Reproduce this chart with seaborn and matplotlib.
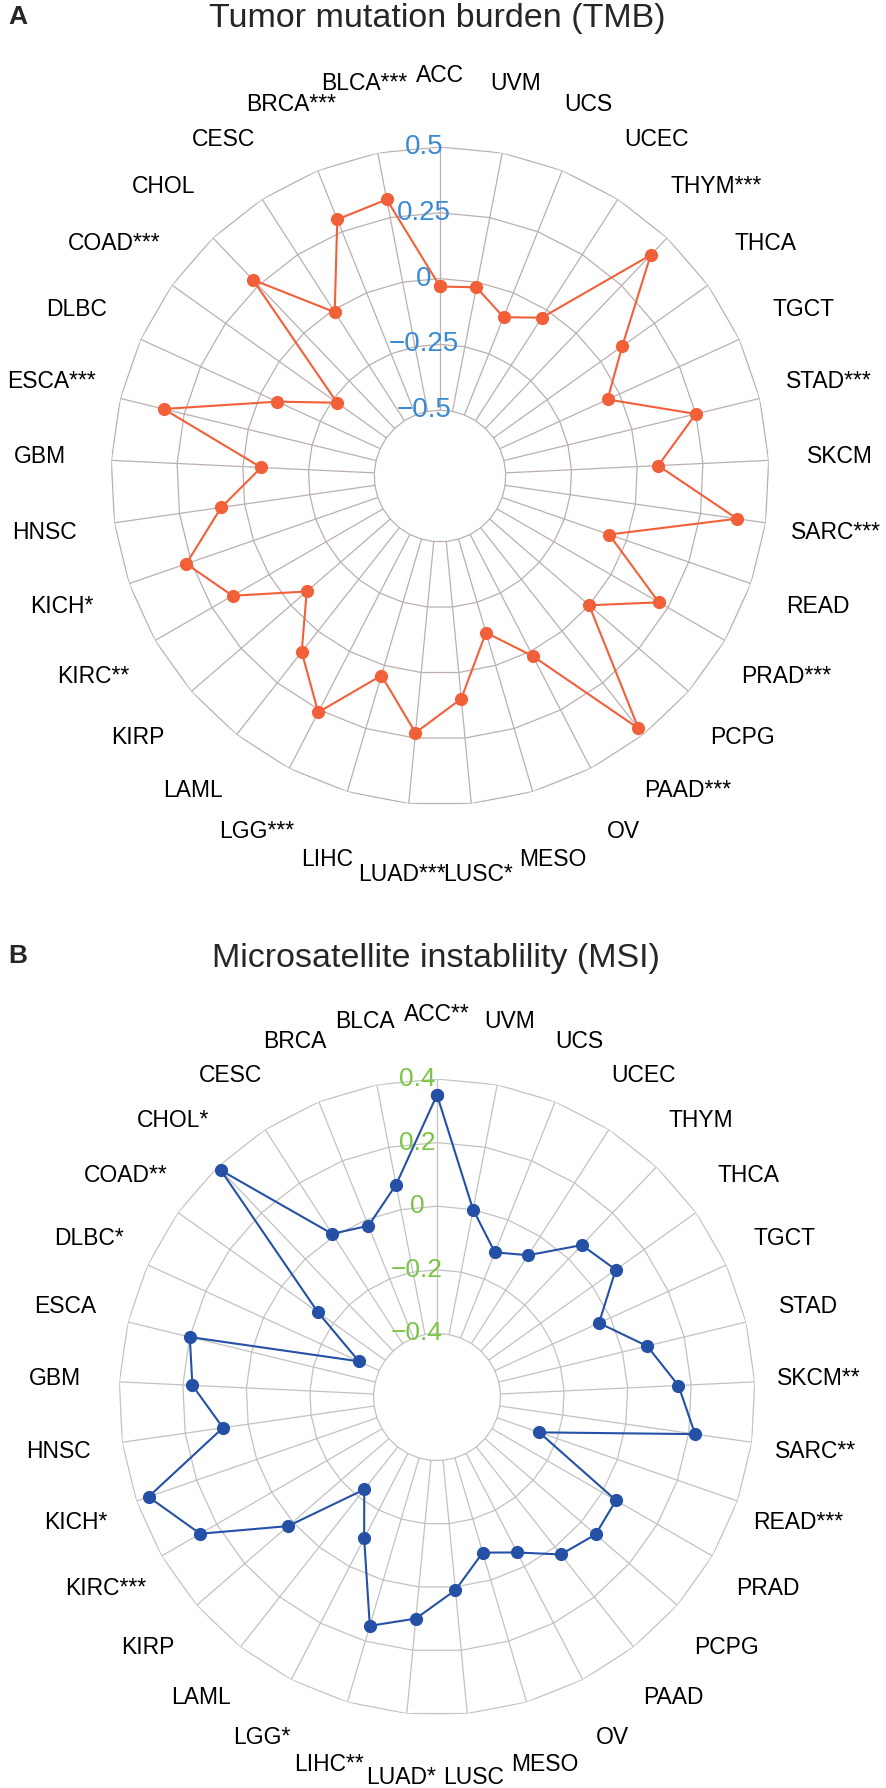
import numpy as np
import pandas as pd
import matplotlib
matplotlib.use("Agg")
import matplotlib.pyplot as plt
import seaborn as sns
from matplotlib import transforms

# ---- data (clockwise from top) ----
categories = ["ACC", "UVM", "UCS", "UCEC", "THYM", "THCA", "TGCT", "STAD", "SKCM",
              "SARC", "READ", "PRAD", "PCPG", "PAAD", "OV", "MESO", "LUSC", "LUAD",
              "LIHC", "LGG", "LAML", "KIRP", "KIRC", "KICH", "HNSC", "GBM", "ESCA",
              "DLBC", "COAD", "CHOL", "CESC", "BRCA", "BLCA"]

tmb_values = [-0.03, -0.02, -0.10, -0.035, 0.41, 0.10, -0.05, 0.25, 0.08,
              0.39, -0.07, 0.21, 0.0, 0.47, 0.02, -0.13, 0.10, 0.23,
              0.04, 0.26, 0.10, -0.08, 0.16, 0.27, 0.09, -0.07, 0.33,
              -0.07, -0.27, 0.28, -0.01, 0.30, 0.32]
tmb_stars = ["", "", "", "", "***", "", "", "***", "",
             "***", "", "***", "", "***", "", "", "*", "***",
             "", "***", "", "", "**", "*", "", "", "***",
             "", "***", "", "", "***", "***"]

msi_values = [0.35, 0.0, -0.11, -0.07, 0.06, 0.09, -0.04, 0.08, 0.16,
              0.22, -0.26, 0.05, 0.06, 0.03, -0.05, -0.09, 0.01, 0.10,
              0.15, -0.10, -0.23, 0.02, 0.26, 0.36, 0.08, 0.17, 0.20,
              -0.33, -0.14, 0.385, 0.01, -0.02, 0.08]
msi_stars = ["**", "", "", "", "", "", "", "", "**",
             "**", "***", "", "", "", "", "", "", "*",
             "**", "*", "", "", "***", "*", "", "", "",
             "*", "**", "*", "", "", ""]

tmb_ticks = [-0.5, -0.25, 0, 0.25, 0.5]
tmb_tick_labels = ["\u22120.5", "\u22120.25", "0", "0.25", "0.5"]
msi_ticks = [-0.4, -0.2, 0, 0.2, 0.4]
msi_tick_labels = ["\u22120.4", "\u22120.2", "0", "0.2", "0.4"]

sns.set_theme(style="white")
plt.rcParams["font.family"] = ["Liberation Sans", "DejaVu Sans"]

W, H = 886, 1788
fig = plt.figure(figsize=(W / 100, H / 100), dpi=100)


def panel(cx, cy, R, rmin, ticks, tlabels, values, stars, line_color,
          grid_color, tick_color, label_r, tick_fs, tick_dx):
    ax = fig.add_axes([(cx - R) / W, 1 - (cy + R) / H, 2 * R / W, 2 * R / H],
                      projection="polar")
    n = len(categories)
    theta = np.linspace(0, 2 * np.pi, n, endpoint=False)
    ax.set_theta_zero_location("N")
    ax.set_theta_direction(-1)
    tc = np.r_[theta, theta[0]]
    for lv in ticks:
        ax.plot(tc, [lv] * (n + 1), color=grid_color, lw=0.9, zorder=1)
    for t in theta:
        ax.plot([t, t], [ticks[0], ticks[-1]], color=grid_color, lw=0.9, zorder=1)
    off = transforms.offset_copy(ax.transData, fig=fig, x=tick_dx, y=0, units="dots")
    for lv, lab in zip(ticks, tlabels):
        ax.text(0, lv, lab, transform=off, ha="center", va="center",
                color=tick_color, fontsize=tick_fs, zorder=2)
    df = pd.DataFrame({"theta": tc, "value": list(values) + [values[0]]})
    sns.lineplot(data=df, x="theta", y="value", sort=False, estimator=None,
                 color=line_color, lw=1.5, marker="o", markersize=9.5,
                 markeredgewidth=0, ax=ax, zorder=3, clip_on=False)
    for t, c, s in zip(theta, categories, stars):
        ax.text(t, label_r, c + s, ha="center", va="center", fontsize=16.5,
                color="black")
    ax.set_xlabel("")
    ax.set_ylabel("")
    ax.grid(False)
    ax.set_xticks([])
    ax.set_yticks([])
    for s in ax.spines.values():
        s.set_visible(False)
    ax.patch.set_alpha(0)
    ax.set_ylim(rmin, ticks[-1])
    return ax


panel(440, 476, 329, -0.75, tmb_ticks, tmb_tick_labels, tmb_values, tmb_stars,
      "#F2603A", "#BBAFAF", "#3A8BD3", 0.77, 20, -16)
panel(437, 1397, 318, -0.6, msi_ticks, msi_tick_labels, msi_values, msi_stars,
      "#2451A6", "#C2C2C2", "#7CC445", 0.603, 19, -20)

fig.text(8 / W, 1 - 24 / H, "A", fontsize=19, fontweight="bold", va="baseline", ha="left")
fig.text(437 / W, 1 - 27 / H, "Tumor mutation burden (TMB)", fontsize=24.5,
         va="baseline", ha="center")
fig.text(8 / W, 1 - 963 / H, "B", fontsize=19, fontweight="bold", va="baseline", ha="left")
fig.text(436 / W, 1 - 967 / H, "Microsatellite instablility (MSI)", fontsize=24.5,
         va="baseline", ha="center")

fig.savefig("out.png", dpi=100, facecolor="white")
